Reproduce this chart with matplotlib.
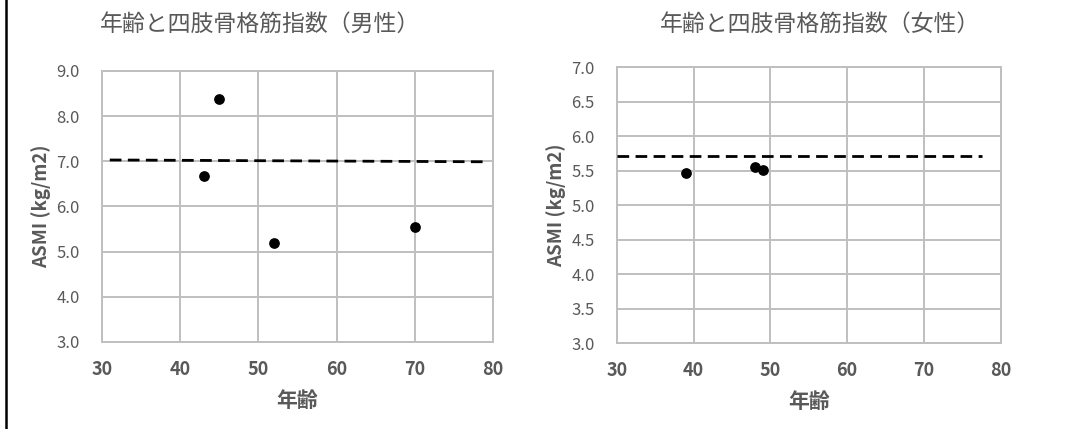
# 年齢と四肢骨格筋指数 (ASMI) scatter, male / female
import matplotlib
matplotlib.use('Agg')
import matplotlib.pyplot as plt
from matplotlib.lines import Line2D

plt.rcParams['font.family'] = ['Noto Sans CJK JP', 'DejaVu Sans']

male_age = [43, 45, 52, 70]
male_asmi = [6.67, 8.37, 5.20, 5.55]
female_age = [39, 48, 49]
female_asmi = [5.47, 5.55, 5.51]

# cut-off (dashed) lines: x ends and y ends
male_cut_x = [31, 79]
male_cut_y = [7.03, 6.99]
female_cut_x = [30, 77.5]
female_cut_y = [5.72, 5.72]

x_ticks = [30, 40, 50, 60, 70, 80]
male_yticks = [3.0, 4.0, 5.0, 6.0, 7.0, 8.0, 9.0]
female_yticks = [3.0, 3.5, 4.0, 4.5, 5.0, 5.5, 6.0, 6.5, 7.0]

txt = '#595959'
grid = '#bfbfbf'

fig = plt.figure(figsize=(10.7, 4.29), dpi=100)
ax1 = fig.add_axes([0.0953, 0.2028, 0.3654, 0.6317])
ax2 = fig.add_axes([0.5764, 0.1998, 0.3589, 0.6434])

panels = [
    (ax1, male_age, male_asmi, male_cut_x, male_cut_y, male_yticks, '年齢と四肢骨格筋指数（男性）', 0.243),
    (ax2, female_age, female_asmi, female_cut_x, female_cut_y, female_yticks, '年齢と四肢骨格筋指数（女性）', 0.766),
]

for ax, xs, ys, cx, cy, yt, title, tx in panels:
    ax.set_xlim(30, 80)
    ax.set_ylim(yt[0], yt[-1])
    ax.set_xticks(x_ticks)
    ax.set_yticks(yt)
    ax.set_yticklabels(['%.1f' % v for v in yt])
    ax.grid(True, color=grid, lw=1.4)
    ax.set_axisbelow(True)
    for s in ax.spines.values():
        s.set_color(grid)
        s.set_linewidth(1.4)
    ax.tick_params(axis='both', length=0)
    ax.tick_params(axis='y', pad=16, labelsize=12, labelcolor=txt)
    ax.tick_params(axis='x', pad=13, labelsize=13, labelcolor=txt)
    for lab in ax.get_xticklabels():
        lab.set_fontweight('bold')
    ax.plot(cx, cy, color='black', lw=2.0, dashes=(4.2, 2.3), zorder=3, clip_on=False)
    ax.scatter(xs, ys, s=45, color='black', zorder=4)
    ax.set_xlabel('年齢', fontsize=15, fontweight='bold', color=txt, labelpad=8)
    ax.set_ylabel('ASMI (kg/m2)', fontsize=13.5, fontweight='bold', color=txt, labelpad=4)
    fig.text(tx, 0.944, title, ha='center', va='center', fontsize=16.5, color=txt)

# left border line of the original picture
fig.add_artist(Line2D([0.0052, 0.0052], [0, 1], color='black', lw=1.8, transform=fig.transFigure))

fig.savefig('out.png', dpi=100)
